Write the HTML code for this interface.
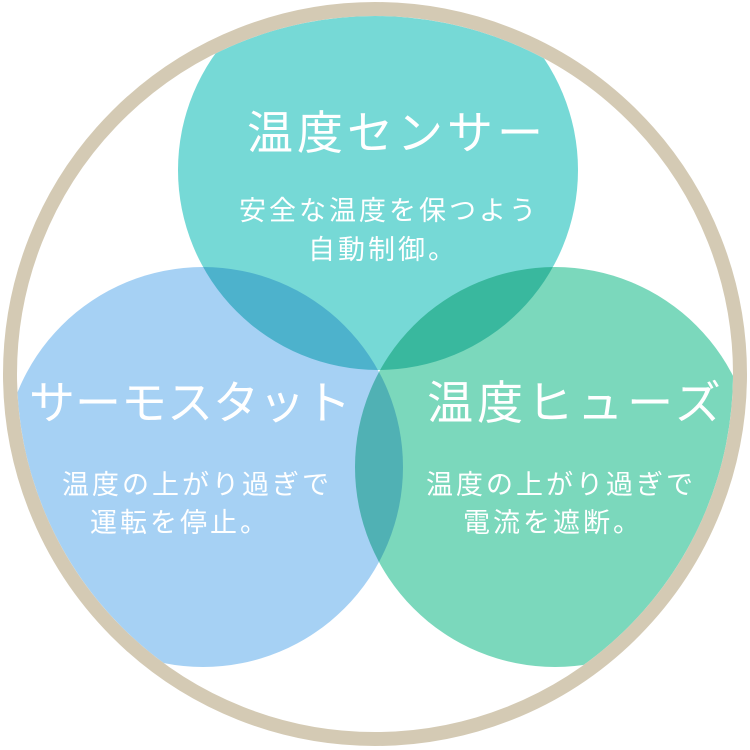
<!DOCTYPE html>
<html><head><meta charset="utf-8"><style>
html,body{margin:0;padding:0;background:#fff;}
svg{display:block}
text{font-family:"Liberation Sans","Noto Sans CJK JP",sans-serif;fill:#fff;text-anchor:middle}
.t{font-size:46px;letter-spacing:4px}
.s{font-size:27px;letter-spacing:3px}
.c{mix-blend-mode:multiply}
</style></head><body>
<svg width="750" height="750" viewBox="0 0 750 750">
<defs><clipPath id="cp"><circle cx="375" cy="374" r="358"/></clipPath></defs>
<g clip-path="url(#cp)" style="isolation:isolate">
<circle class="c" cx="378" cy="170" r="200" fill="#76d9d6"/>
<circle class="c" cx="203" cy="467" r="200" fill="#a6d1f4"/>
<circle class="c" cx="555" cy="467" r="200" fill="#7bd8bc"/>
</g>
<circle cx="375" cy="374" r="365" fill="none" stroke="#d4cab4" stroke-width="14"/>
<text class="t" x="397" y="149">温度センサー</text>
<text class="s" x="389" y="220">安全な温度を保つよう</text>
<text class="s" x="383" y="259">自動制御。</text>
<text x="190" y="419" font-size="46">サーモスタット</text>
<text class="t" x="576" y="419">温度ヒューズ</text>
<text class="s" x="197" y="494">温度の上がり過ぎで</text>
<text class="s" x="180" y="532">運転を停止。</text>
<text class="s" x="561" y="494">温度の上がり過ぎで</text>
<text class="s" x="553" y="532">電流を遮断。</text>
</svg>
</body></html>
